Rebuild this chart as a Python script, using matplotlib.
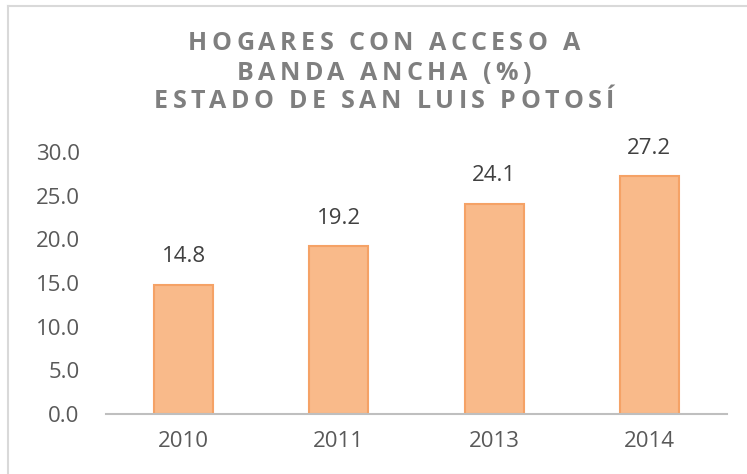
import matplotlib
matplotlib.use('Agg')
import matplotlib.pyplot as plt
from matplotlib.lines import Line2D
from matplotlib.font_manager import FontProperties
from matplotlib.textpath import TextToPath

years = ['2010', '2011', '2013', '2014']
values = [14.8, 19.2, 24.1, 27.2]
title_lines = ['HOGARES CON ACCESO A', 'BANDA ANCHA (%)', 'ESTADO DE SAN LUIS POTOSÍ']

W, H, DPI = 747, 474, 100
fig = plt.figure(figsize=(W / DPI, H / DPI), dpi=DPI)
ax = fig.add_axes([106 / W, 1 - 414 / H, (727 - 106) / W, (414 - 152) / H])

x = range(len(years))
bars = ax.bar(x, values, width=0.38, color='#F9BA8A', edgecolor='#F5A266', linewidth=1.5)
for b, v in zip(bars, values):
    ax.text(b.get_x() + b.get_width() / 2, v + 2.0, f'{v:.1f}', ha='center', va='bottom',
            fontsize=16, color='#404040', family='Open Sans')

ax.set_xlim(-0.5, len(years) - 0.5)
ax.set_ylim(0, 30)
ax.set_yticks([0, 5, 10, 15, 20, 25, 30])
ax.set_yticklabels([f'{t:.1f}' for t in ax.get_yticks()])
ax.set_xticks(list(x))
ax.set_xticklabels(years)
for s in ['top', 'right', 'left']:
    ax.spines[s].set_visible(False)
ax.spines['bottom'].set_color('#BFBFBF')
ax.spines['bottom'].set_linewidth(1.5)
ax.tick_params(axis='both', length=0, labelsize=16, colors='#595959')
ax.tick_params(axis='y', pad=19)
ax.tick_params(axis='x', pad=12)
for lab in ax.get_xticklabels() + ax.get_yticklabels():
    lab.set_family('Open Sans')

# letter-spaced title, drawn char by char
prop = FontProperties(family='Open Sans', weight='bold', size=18)
ttp = TextToPath()
def widths(line):
    return [ttp.get_text_width_height_descent(c, prop, ismath=False)[0] * DPI / 72 for c in line]

w3 = widths(title_lines[2])
track = (460 - sum(w3)) / (len(title_lines[2]) - 1)
cx = 384
for line, yc in zip(title_lines, [44, 73, 102]):
    ws = widths(line)
    total = sum(ws) + track * (len(line) - 1)
    xp = cx - total / 2
    for c, w in zip(line, ws):
        fig.text(xp / W, 1 - yc / H, c, fontproperties=prop, color='#7F7F7F',
                 ha='left', va='center')
        xp += w + track

# chart frame (only top and left edges are inside the picture)
fig.add_artist(Line2D([8 / W, 8 / W], [0, 1 - 6 / H], color='#D9D9D9', lw=1.5))
fig.add_artist(Line2D([8 / W, 1], [1 - 6 / H, 1 - 6 / H], color='#D9D9D9', lw=1.5))

fig.savefig('out.png', dpi=DPI)
